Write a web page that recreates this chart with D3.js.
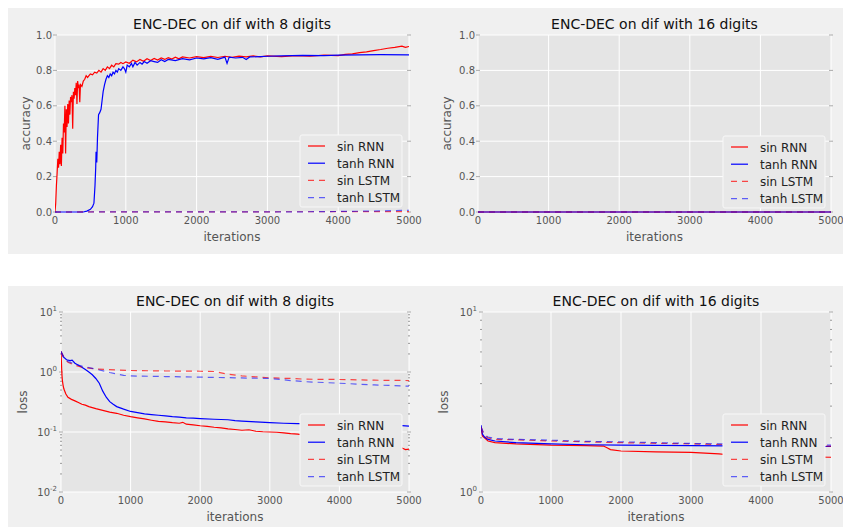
<!DOCTYPE html>
<html lang="en">
<head>
<meta charset="UTF-8">
<title>ENC-DEC on dif</title>
<script src="https://d3js.org/d3.v7.min.js"></script>
<style>
  body { margin: 0; background: #fff; }
  text { font-family: "DejaVu Sans", sans-serif; }
</style>
</head>
<body>
<script>
// ---- data ----
var seriesNames = ["sin RNN", "tanh RNN", "sin LSTM", "tanh LSTM"];
var xTicks = [0, 1000, 2000, 3000, 4000, 5000];
var accTicks = [0.0, 0.2, 0.4, 0.6, 0.8, 1.0];

// accuracy, 8 digits
var acc8SinRnn = [[0,0],[10,0.05],[20,0.15],[30,0.22],[40,0.3],[50,0.25],[60,0.34],[70,0.27],[80,0.38],[90,0.26],
  [100,0.42],[110,0.33],[120,0.5],[130,0.45],[140,0.6],[150,0.33],[160,0.58],[170,0.48],[180,0.61],[190,0.5],
  [200,0.63],[210,0.55],[220,0.65],[230,0.62],[240,0.66],[250,0.47],[260,0.68],[270,0.64],[280,0.7],[290,0.66],
  [300,0.73],[310,0.61],[320,0.74],[330,0.7],[340,0.72],[350,0.62],[360,0.72],[380,0.71],[400,0.74],[420,0.75],
  [440,0.77],[460,0.76],[480,0.77],[500,0.78],[530,0.775],[560,0.79],[590,0.785],[620,0.8],[650,0.79],[680,0.81],
  [710,0.8],[740,0.82],[770,0.81],[800,0.83],[830,0.82],[860,0.838],[900,0.835],[930,0.845],[960,0.838],[1000,0.848],
  [1050,0.84],[1100,0.858],[1150,0.848],[1200,0.862],[1250,0.852],[1300,0.866],[1350,0.856],[1400,0.867],[1450,0.858],
  [1500,0.87],[1550,0.862],[1600,0.872],[1650,0.864],[1700,0.875],[1750,0.866],[1800,0.876],[1900,0.87],[2000,0.878],
  [2100,0.872],[2200,0.879],[2300,0.873],[2400,0.88],[2500,0.874],[2600,0.881],[2700,0.876],[2800,0.882],[2900,0.877],
  [3000,0.882],[3200,0.878],[3400,0.884],[3600,0.88],[3800,0.886],[4000,0.884],[4100,0.89],[4200,0.893],[4300,0.9],
  [4400,0.905],[4500,0.912],[4600,0.918],[4700,0.925],[4800,0.93],[4900,0.937],[4950,0.93],[5000,0.935]];
var acc8TanhRnn = [[0,0],[400,0],[450,0.005],[500,0.015],[530,0.03],[550,0.05],[565,0.15],[575,0.25],[580,0.34],
  [590,0.28],[600,0.42],[615,0.55],[630,0.56],[650,0.58],[665,0.63],[680,0.68],[700,0.72],[720,0.75],[740,0.77],
  [760,0.76],[780,0.78],[800,0.77],[820,0.79],[840,0.78],[860,0.8],[880,0.79],[900,0.81],[930,0.8],[960,0.82],
  [980,0.81],[1000,0.79],[1020,0.83],[1050,0.82],[1080,0.84],[1100,0.82],[1130,0.845],[1160,0.83],[1200,0.845],
  [1230,0.835],[1260,0.85],[1300,0.84],[1350,0.855],[1400,0.85],[1450,0.845],[1500,0.86],[1550,0.85],[1600,0.862],
  [1700,0.855],[1800,0.866],[1900,0.86],[2000,0.87],[2100,0.865],[2200,0.872],[2300,0.862],[2400,0.875],[2430,0.84],
  [2460,0.875],[2550,0.87],[2650,0.874],[2700,0.862],[2750,0.876],[2900,0.878],[3000,0.88],[3200,0.882],[3500,0.885],
  [3800,0.884],[4000,0.886],[4300,0.888],[4600,0.889],[5000,0.888]];
var acc8SinLstm = [[0,0],[5000,0.002]];
var acc8TanhLstm = [[0,0],[3500,0.001],[4500,0.005],[5000,0.01]];

// accuracy, 16 digits
var acc16SinRnn = [[0,0],[5000,0]];
var acc16TanhRnn = [[0,0],[5000,0]];
var acc16SinLstm = [[0,0],[5000,0]];
var acc16TanhLstm = [[0,0],[5000,0]];

// loss, 8 digits (log scale)
var loss8SinRnn = [[0,2.2],[5,1.6],[10,1.1],[15,0.85],[20,0.72],[30,0.6],[40,0.53],[50,0.49],[70,0.43],[100,0.38],
  [150,0.35],[200,0.33],[250,0.31],[300,0.29],[350,0.28],[400,0.265],[450,0.255],[500,0.245],[600,0.23],[700,0.215],
  [800,0.205],[900,0.19],[1000,0.18],[1100,0.172],[1200,0.165],[1300,0.157],[1400,0.15],[1500,0.147],[1600,0.143],
  [1700,0.14],[1750,0.145],[1800,0.135],[1900,0.131],[2000,0.127],[2100,0.124],[2200,0.12],[2300,0.117],[2400,0.113],
  [2500,0.11],[2600,0.107],[2700,0.109],[2800,0.103],[2900,0.101],[3000,0.1],[3100,0.099],[3200,0.097],[3300,0.094],
  [3400,0.092],[3600,0.085],[3800,0.078],[4000,0.072],[4200,0.067],[4400,0.062],[4600,0.058],[4800,0.055],[4900,0.054],
  [4950,0.051],[5000,0.052]];
var loss8TanhRnn = [[0,2.2],[30,1.8],[80,1.6],[130,1.55],[160,1.58],[200,1.4],[250,1.3],[300,1.2],[350,1.1],
  [400,1.0],[450,0.9],[500,0.78],[550,0.65],[600,0.48],[650,0.38],[700,0.32],[750,0.29],[800,0.265],[900,0.24],
  [1000,0.22],[1100,0.21],[1200,0.2],[1300,0.195],[1400,0.19],[1500,0.185],[1600,0.18],[1700,0.177],[1800,0.172],
  [1900,0.17],[2000,0.167],[2200,0.163],[2400,0.16],[2500,0.155],[2600,0.152],[2800,0.147],[3000,0.143],[3200,0.14],
  [3400,0.138],[3600,0.136],[4000,0.133],[4500,0.13],[4900,0.128],[5000,0.125]];
var loss8SinLstm = [[0,2.2],[50,1.7],[100,1.45],[200,1.3],[300,1.2],[500,1.12],[800,1.08],[1000,1.06],[1500,1.04],
  [2000,1.03],[2200,1.02],[2400,0.92],[2600,0.86],[2800,0.83],[3000,0.8],[3300,0.78],[3500,0.76],[4000,0.75],
  [4500,0.73],[5000,0.72]];
var loss8TanhLstm = [[0,2.2],[50,1.7],[100,1.5],[200,1.35],[300,1.25],[500,1.12],[700,0.98],[900,0.88],[1000,0.86],
  [1500,0.84],[2000,0.82],[2500,0.8],[3000,0.78],[3300,0.72],[3500,0.69],[4000,0.65],[4500,0.61],[5000,0.58]];

// loss, 16 digits (log scale)
var loss16SinRnn = [[0,2.3],[20,2.05],[50,2.0],[100,1.92],[200,1.88],[500,1.85],[1000,1.82],[1500,1.81],[1750,1.8],
  [1800,1.76],[1850,1.72],[2000,1.69],[2500,1.67],[3000,1.66],[3400,1.63],[3600,1.6],[4000,1.58],[5000,1.56]];
var loss16TanhRnn = [[0,2.35],[20,2.1],[50,2.02],[100,1.96],[200,1.92],[500,1.88],[1000,1.85],[1500,1.83],
  [2000,1.82],[3000,1.81],[4000,1.8],[5000,1.79]];
var loss16SinLstm = [[0,2.3],[50,2.05],[100,2.0],[200,1.96],[500,1.95],[1000,1.92],[1500,1.9],[2000,1.88],
  [3000,1.85],[4000,1.82],[5000,1.8]];
var loss16TanhLstm = [[0,2.3],[50,2.08],[100,2.02],[200,1.98],[500,1.96],[1000,1.94],[1500,1.91],[2000,1.9],
  [3000,1.86],[4000,1.84],[5000,1.82]];

// ---- drawing ----
var W = 843, H = 527;
var colors = ["#ff0000", "#0000ff", "#ff0000", "#0000ff"];
var opac = [1, 1, 0.7, 0.6];
var dashes = [null, null, "6,5", "6,5"];

var svg = d3.select("body").append("svg").attr("width", W).attr("height", H);

svg.append("rect").attr("x", 8).attr("y", 8).attr("width", W - 8).attr("height", 246).attr("fill", "#f0f0f0");
svg.append("rect").attr("x", 8).attr("y", 286).attr("width", W - 8).attr("height", 241).attr("fill", "#f0f0f0");

var panels = [
  {x0: 55, x1: 409, y0: 35, y1: 212, log: false, domain: [0, 1], ylabel: "accuracy", ylx: 26,
   title: "ENC-DEC on dif with 8 digits", data: [acc8SinRnn, acc8TanhRnn, acc8SinLstm, acc8TanhLstm], legend: [300, 135]},
  {x0: 478, x1: 831, y0: 35, y1: 212, log: false, domain: [0, 1], ylabel: "accuracy", ylx: 447,
   title: "ENC-DEC on dif with 16 digits", data: [acc16SinRnn, acc16TanhRnn, acc16SinLstm, acc16TanhLstm], legend: [723, 136]},
  {x0: 61, x1: 409, y0: 312, y1: 492, log: true, domain: [0.01, 10], ylabel: "loss", ylx: 23,
   title: "ENC-DEC on dif with 8 digits", data: [loss8SinRnn, loss8TanhRnn, loss8SinLstm, loss8TanhLstm], legend: [300, 414]},
  {x0: 481, x1: 831, y0: 312, y1: 492, log: true, domain: [1, 10], ylabel: "loss", ylx: 444,
   title: "ENC-DEC on dif with 16 digits", data: [loss16SinRnn, loss16TanhRnn, loss16SinLstm, loss16TanhLstm], legend: [723, 414]}
];

panels.forEach(function(p, pi) {
  var g = svg.append("g");
  var x = d3.scaleLinear().domain([0, 5000]).range([p.x0, p.x1]);
  var y = p.log ? d3.scaleLog().domain(p.domain).range([p.y1, p.y0])
                : d3.scaleLinear().domain(p.domain).range([p.y1, p.y0]);

  g.append("rect").attr("x", p.x0).attr("y", p.y0).attr("width", p.x1 - p.x0).attr("height", p.y1 - p.y0)
    .attr("fill", "#e5e5e5");

  // grid
  g.selectAll(".vg").data(xTicks).enter().append("line")
    .attr("x1", d => x(d)).attr("x2", d => x(d)).attr("y1", p.y0).attr("y2", p.y1)
    .attr("stroke", "#fff").attr("stroke-width", 1);

  var yMajor, yMinor = [];
  if (p.log) {
    var e0 = Math.round(Math.log10(p.domain[0])), e1 = Math.round(Math.log10(p.domain[1]));
    yMajor = d3.range(e0, e1 + 1).map(e => Math.pow(10, e));
    d3.range(e0, e1).forEach(function(e) {
      for (var k = 2; k < 10; k++) yMinor.push(k * Math.pow(10, e));
    });
  } else {
    yMajor = accTicks;
  }
  g.selectAll(".hg").data(yMajor).enter().append("line")
    .attr("x1", p.x0).attr("x2", p.x1).attr("y1", d => y(d)).attr("y2", d => y(d))
    .attr("stroke", "#fff").attr("stroke-width", 1);

  // minor ticks (log)
  [p.x0, p.x1].forEach(function(xe, side) {
    g.selectAll(".mt" + side).data(yMinor).enter().append("line")
      .attr("x1", xe - 1).attr("x2", xe + 1).attr("y1", d => y(d)).attr("y2", d => y(d))
      .attr("stroke", "#999").attr("stroke-width", 1);
    g.selectAll(".Mt" + side).data(yMajor).enter().append("line")
      .attr("x1", xe - 2).attr("x2", xe + 2).attr("y1", d => y(d)).attr("y2", d => y(d))
      .attr("stroke", "#aaa").attr("stroke-width", 1);
  });

  // clip
  var cid = "clip" + pi;
  svg.append("clipPath").attr("id", cid).append("rect")
    .attr("x", p.x0).attr("y", p.y0 - 1).attr("width", p.x1 - p.x0).attr("height", p.y1 - p.y0 + 2);

  var line = d3.line().x(d => x(d[0])).y(d => y(d[1]));
  var lg = g.append("g").attr("clip-path", "url(#" + cid + ")");
  p.data.forEach(function(s, i) {
    lg.append("path").attr("d", line(s)).attr("fill", "none")
      .attr("stroke", colors[i]).attr("stroke-opacity", opac[i]).attr("stroke-width", 1.2)
      .attr("stroke-dasharray", dashes[i]);
  });

  // x tick labels
  g.selectAll(".xt").data(xTicks).enter().append("text")
    .attr("x", d => x(d)).attr("y", p.y1 + 12).attr("text-anchor", "middle")
    .attr("font-size", 10).attr("fill", "#555").text(d => d);

  // y tick labels
  if (p.log) {
    yMajor.forEach(function(v) {
      var t = g.append("text").attr("x", p.x0 - 4).attr("y", y(v) + 4).attr("text-anchor", "end")
        .attr("font-size", 10).attr("fill", "#555");
      t.append("tspan").text("10");
      t.append("tspan").attr("dy", -5).attr("font-size", 7).text(Math.round(Math.log10(v)));
    });
  } else {
    g.selectAll(".yt").data(yMajor).enter().append("text")
      .attr("x", p.x0 - 3).attr("y", d => y(d) + 3.5).attr("text-anchor", "end")
      .attr("font-size", 10).attr("fill", "#555").text(d => d.toFixed(1));
  }

  // axis labels + title
  g.append("text").attr("x", (p.x0 + p.x1) / 2).attr("y", p.y1 + 29).attr("text-anchor", "middle")
    .attr("font-size", 12).attr("fill", "#555").text("iterations");
  g.append("text").attr("transform", "translate(" + p.ylx + "," + ((p.y0 + p.y1) / 2) + ") rotate(-90)")
    .attr("text-anchor", "middle").attr("dy", "0.35em")
    .attr("font-size", 12).attr("fill", "#555").text(p.ylabel);
  g.append("text").attr("x", (p.x0 + p.x1) / 2).attr("y", p.y0 - 6).attr("text-anchor", "middle")
    .attr("font-size", 14).attr("fill", "#111").text(p.title);

  // legend
  var lx = p.legend[0], ly = p.legend[1];
  var leg = g.append("g");
  leg.append("rect").attr("x", lx).attr("y", ly).attr("width", 102).attr("height", 72).attr("rx", 2)
    .attr("fill", "#e8e8e8").attr("stroke", "#f8f8f8").attr("stroke-width", 1);
  seriesNames.forEach(function(name, i) {
    var yy = ly + 11 + i * 17.2;
    leg.append("line").attr("x1", lx + 8).attr("x2", lx + 25).attr("y1", yy).attr("y2", yy)
      .attr("stroke", colors[i]).attr("stroke-opacity", opac[i]).attr("stroke-width", 1.2)
      .attr("stroke-dasharray", dashes[i]);
    leg.append("text").attr("x", lx + 37).attr("y", yy + 4.5).attr("font-size", 12).attr("fill", "#222").text(name);
  });
});
</script>
</body>
</html>
